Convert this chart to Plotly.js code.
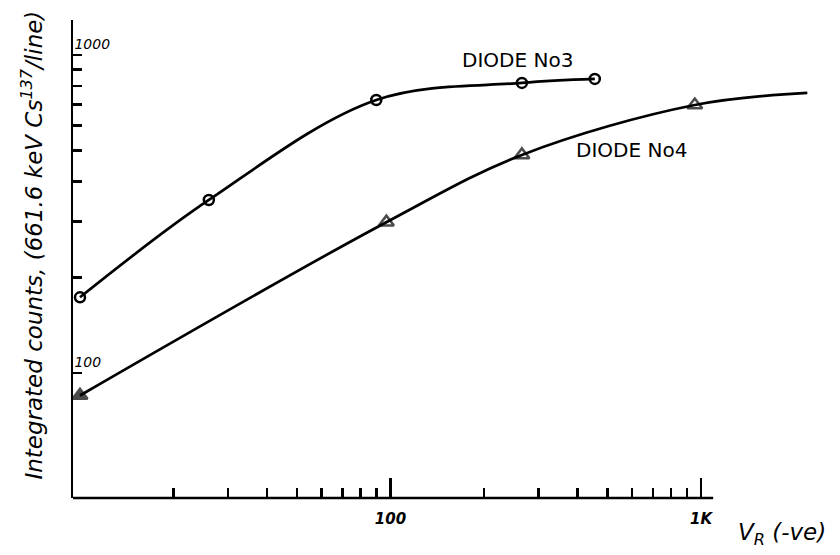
<!DOCTYPE html>
<html>
<head>
<meta charset="utf-8">
<script src="https://cdn.plot.ly/plotly-3.0.1.min.js"></script>
<style>html,body{margin:0;padding:0;background:#fff;}#chart{width:840px;height:555px;}</style>
</head>
<body>
<div id="chart"></div>
<script>
// Diode No3 (circles)
const voltsNo3 = [10, 26, 90, 265, 455];
const countsNo3 = [173, 350, 722, 817, 841];
// Diode No4 (triangles); last point is the end of the drawn curve (no marker)
const voltsNo4 = [10, 97, 265, 955, 2200];
const countsNo4 = [85, 298, 485, 696, 760];

const xMajorTicks = [100, 1000];
const xMajorText = ["100", "1K"];
const xMinorTicks = [20, 30, 40, 50, 60, 70, 80, 90, 200, 300, 400, 500, 600, 700, 800, 900];
const yTicks = [100, 200, 300, 400, 500, 600, 700, 800, 900, 1000];
const yTickText = ["100", "", "", "", "", "", "", "", "", "1000"];

const seriesNames = ["DIODE No3", "DIODE No4"];

const hand = {family: "DejaVu Sans", color: "#000", style: "italic"};

const traces = [
  {
    x: voltsNo3, y: countsNo3, name: seriesNames[0],
    mode: "lines+markers", line: {shape: "spline", smoothing: 1, color: "#000", width: 2.7},
    marker: {symbol: "circle-open", size: 10, color: "#000", line: {width: 2.5, color: "#000"}}
  },
  {
    x: voltsNo4, y: countsNo4, name: seriesNames[1],
    mode: "lines+markers", line: {shape: "spline", smoothing: 1, color: "#000", width: 2.7},
    marker: {
      symbol: ["triangle-up", "triangle-up-open", "triangle-up-open", "triangle-up-open", "triangle-up-open"],
      size: [13, 13, 13, 13, 0], color: "#000", line: {width: 2.6, color: "#000"}
    }
  }
];

const layout = {
  width: 840, height: 555,
  margin: {l: 73, r: 20, t: 20, b: 57},
  paper_bgcolor: "#fff", plot_bgcolor: "#fff",
  showlegend: false,
  xaxis: {
    type: "log", range: [0.9775, 3.3833],
    showgrid: false, zeroline: false, showline: false,
    tickmode: "array", tickvals: xMajorTicks, ticktext: xMajorText,
    ticks: "inside", ticklen: 20, tickwidth: 2.5, tickcolor: "#000",
    ticklabelstandoff: 10,
    tickfont: {family: "DejaVu Sans", size: 15, color: "#000", style: "italic", weight: "bold"},
    minor: {tickvals: xMinorTicks, ticks: "inside", ticklen: 10, tickwidth: 2.5, tickcolor: "#000", showgrid: false}
  },
  yaxis: {
    type: "log", range: [1.607, 3.110],
    showgrid: false, zeroline: false, showline: true, linewidth: 2.5, linecolor: "#000",
    tickmode: "array", tickvals: yTicks, ticktext: yTickText,
    ticks: "inside", ticklen: 9, tickwidth: 2.5, tickcolor: "#000",
    ticklabelposition: "inside top",
    tickfont: {family: "DejaVu Sans", size: 14, color: "#000", style: "italic"}
  },
  shapes: [
    {type: "line", xref: "paper", yref: "paper", x0: 0, x1: 0.857, y0: 0, y1: 0,
     line: {color: "#000", width: 2.5}}
  ],
  annotations: [
    {xref: "paper", yref: "paper", x: 0.5957, y: 0.9163, xanchor: "center", yanchor: "middle",
     text: seriesNames[0], showarrow: false,
     font: {family: "DejaVu Sans", size: 20, color: "#000"}},
    {xref: "paper", yref: "paper", x: 0.747, y: 0.728, xanchor: "center", yanchor: "middle",
     text: seriesNames[1], showarrow: false,
     font: {family: "DejaVu Sans", size: 20, color: "#000"}},
    {xref: "paper", yref: "paper", x: 0.887, y: -0.075, xanchor: "left", yanchor: "middle",
     text: "V<sub>R</sub> (-ve)", showarrow: false,
     font: Object.assign({}, hand, {size: 23})},
    {xref: "paper", yref: "paper", x: -0.055, y: 0.53, xanchor: "center", yanchor: "middle", textangle: -90,
     text: "Integrated counts, (661.6 keV Cs<sup>137</sup>/line)", showarrow: false,
     font: Object.assign({}, hand, {size: 23})}
  ]
};

Plotly.newPlot("chart", traces, layout, {staticPlot: true, displayModeBar: false});
</script>
</body>
</html>
